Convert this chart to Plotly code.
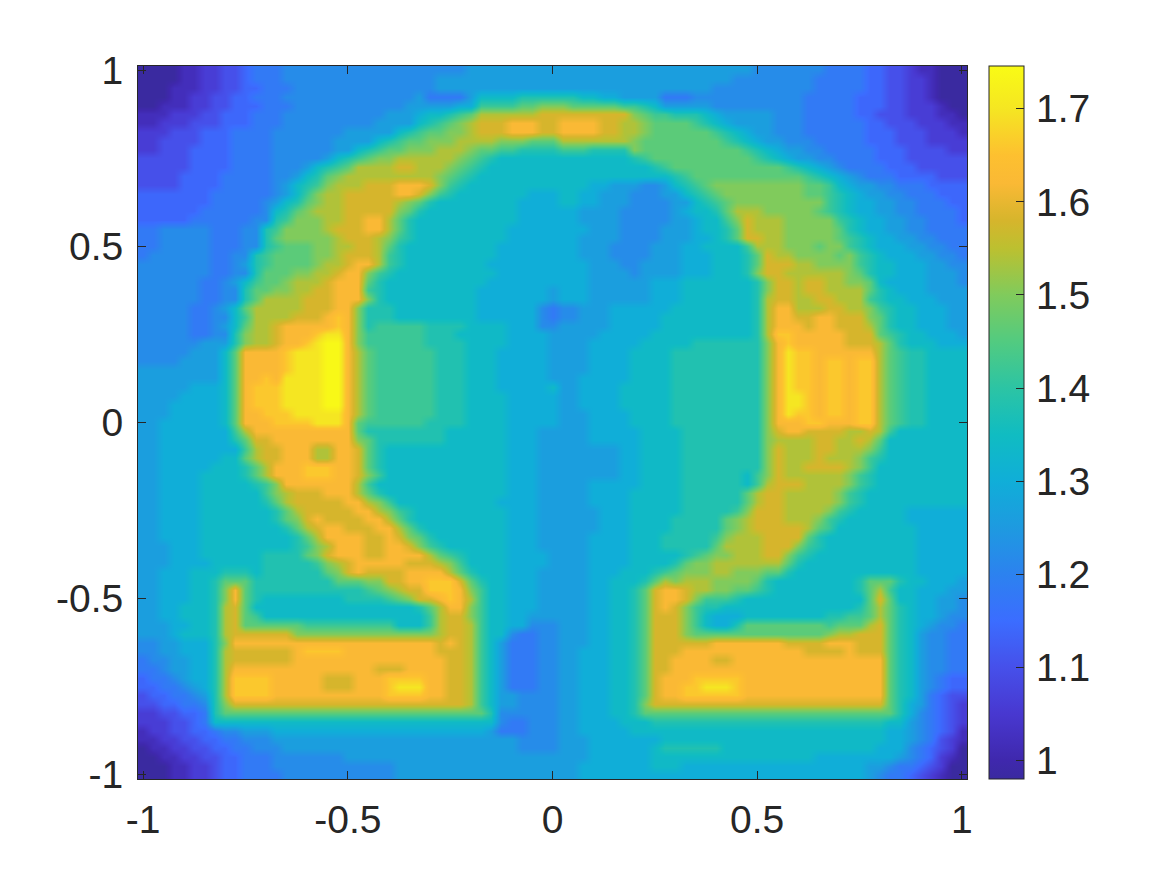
import re
import plotly.graph_objects as go

# Colour levels: one code per value of the field.
LEVEL_CODES = list("ABCDEFGHIJKLMNOPQRST")
LEVEL_VALUES = [0.98, 1.02, 1.06, 1.10, 1.14, 1.18, 1.22, 1.26, 1.30, 1.34,
                1.38, 1.42, 1.46, 1.50, 1.54, 1.58, 1.62, 1.66, 1.70, 1.74]

X_VALUES = [i / 40 - 1 for i in range(81)]
Y_VALUES = [1 - j / 40 for j in range(81)]
TICK_VALUES = [-1, -0.5, 0, 0.5, 1]
TICK_LABELS = ["-1", "-0.5", "0", "0.5", "1"]
BAR_TICKS = [1, 1.1, 1.2, 1.3, 1.4, 1.5, 1.6, 1.7]
BAR_LABELS = ["\u200a1", "\u200a1.1", "\u200a1.2", "\u200a1.3", "\u200a1.4", "\u200a1.5", "\u200a1.6", "\u200a1.7"]

# Cell runs per image row, top to bottom: code + number of cells. x from -1 to 0.
ROWS_LEFT = [
"A4B2C2D2E1F3G18H9","A4B2C2D2E1F3G15H12","A3B3C2D2E2F3G14H12","A3B2C2D2E2F3G13H1F4H1J4K4",
"A2B3C2D2E3F3G11H5I2L4M2N2","B3C3D2E3F3G10H3I1J2K1L1M1O6P2","B2C3D3E3F3G9H4J1K1L1M1N1O1P3Q3P2",
"C3D3E3F4G7H5J1K1L1M2N2O1P3Q3P2","C2D4E3F4G6H4J1K1L1M2N3O4N3M3","C2D3E4F4G6H2J1K1L1M2N3O3N1M2L2K4",
"D5E4F4G5H1J1K1L1M1N2O6N1M1L1K1J6","D5E4F4G3H1J1K1L1M1O4P2O3N1M1L1K1J7","D4E4F5G2H1J1K1M1N1O9N1M1L1K1J8",
"D4E4F5G1H1J1K1L1N1O3P3Q3P1N1L1K1J9","E7F6G1H1J1L1N1O2P5Q2P1N1L1K1J7I3","E7F5G1H1J1K1M1N1O2P5O1N1M1K1J8I4",
"E6F6G1J1K1M1N1O3P5N1M1K1J9I4","E5F6G2K1L1N3O2P2Q2O1M1K1J10I4","F2G5F3G2K1L1N4O1P3Q2O1M1K1J9I5",
"F2G5F3G2K1M1N5O1P3O1N1L1K1J9I5","F2G5F3G2K1L1M3N2O2P2O1M1K1J9I6","F1G6F2G2K1L1M4N2O1P3O1L1K1J9I6",
"G7F2G1H1K1L1M4N1O2P1Q2O1L1K1J8I7","G7F2G2K1M3N2O2P1Q2N1L1K1J10I6","G6F2G1H1J1L1M2N1O3P1Q3M1K1J10I7",
"G6F2G2K1M2N2O2P2Q3L1K1J9I7H1","G6F2G2K1M1O4P3Q3N1K1J9I7H1","G5F2G1H1J1M1O5P3Q2N1K3J8I6G1F1",
"G5F2G2J1L1O4P3Q1R1Q1N1K3J8I6G1F1","G5F2G1H1J1M1O2P1Q5R1Q1N1K1L5K4J4I3G2","G5F2G2K1N1O2P1Q3R1S2Q1N1L6K3J5I4H1",
"G6H3K1N1O2P1Q2R1S1T2Q1N1L6K4J4I4H1","G5H3J1M1Q4R1S3T2Q1O1M1L6K3J3I5H1","G4H4J1M1Q4R1S3T2Q1O1M1L6K3J3I5H1",
"H8J1M1Q4R1S3T2Q1O1M1L6K3J3I5H1","H8J1M1Q2R1Q1S4T2Q1O1M1L6K3J3I5H1","H5I3J1M1Q1R3S4T2Q1O1M1L6K3J3I5J1",
"H4I4J1M1Q1R3S4T2Q1O1M1L6K3J4I5","H3I5J1M1Q1R3S4T2Q1O1M1L6K3J4I5","H3I5J1M1Q2R3S5Q1O1M1L6K3J4I5",
"H2I6J1M1Q3R4S3Q1M1L6K4J4I5","H2I7L1O1Q10M1K8J6I3H2","H2I7K1M1P2Q8N1M1K7J6I3H2",
"H2I8L1O1P2Q3O2Q2P1M1K1J12I3H2","H2I6J2M1O1P2Q3O2Q2P1M1K1J12I3H2","H2I5J3K1M1O1Q3R3Q2P1M1K1J12I3H2",
"H2I4J4K1M1O1Q3R3Q2P1N1L1J12I3H2","H2I4J5K1L1N1Q7O1L1J13I3H2","H2I4J6L1N1O1P3Q3O1M1K1J12I3H2",
"H2I4J6K1M1O1P5Q2O1N1L1J10I4H2","H2I4J7K1M1O1P5Q2O1N1L1K1J9I3H2","H2I4J7K1M1N1P1Q1P4Q2O1M1K1J9I3H2",
"H2I4J8K1M1O1P1Q2P3Q2O1M1K1J8I3H2","H2I4J9K1M1O1Q4P2Q1P1N1M1K1J7I3H2","H3I3J9K1L1N1O1Q3P2Q2P1N1L1K1J6I3H2",
"H3I3J6K4M1N1P1Q3P2Q4O1M1L1K1J4I4H1","H3I4J5K5L1N1O1P1Q5P3O1N1L1J4I4H1","H2I3J3K3J1K6M1N1P1Q1P4Q4O1M1K1J3I3H2",
"H2I3J2K1M3K8M3N2P2Q2R3P1M1K1J2I3H2","H2I3J2K1N1Q1M1K11L1M1N1O1P2R3Q1N1L1J2I3H2","H2I3J2K1N1Q1M1K1J8K4L1M1N1P2Q1R1Q1O1L1J2I3H2",
"H2I2J3K1O1P1M1J16K1M1O1Q2N1L1J2I3H2","H2I2J3K1O1P1M1L1J16L1O1P2N1L1J2I2H3","H3I2J2K1O1P1M6L9J3L1O1P2O1L1J2I2G3",
"H3I1J3K1O1P6N14O1P2O1L1J2G1F2G2","G2H2I3K1N1Q20P1Q1P1O1L1J1H1F3G2","G2H2I3K1O1P6Q1R4Q9P1P2O1L1J1H1F3G2",
"F1G2H2I2K1O1P6Q1Q14P2O1L1J1H1F3G2","F2G1H2I2K1O1Q14P3Q4P2O1L1J1H1F3G2","E1F2G1H1I2K1O1R4Q5P3Q3R4Q2P2O1L1J1H1F3G2",
"E2F2G1H1I1K1O1R4Q5P3Q3R1S3Q2P2O1L1J1H1F3G2","D1E2F2G1H1K1O1R4Q11R4Q2P2O1L1J1H2G4","D2E2F2G1K1N1P23O1L1J1H2G4",
"C2D2E2F1K1M26K1G6","C3D2E1F1J28G1F2G3","B1C2D2E2F1G2H3I21H1F3G3","B2C2D2E2F2G3H24G4",
"A1B2C2D2E2F2G3H23G4","A2B2C2D2E2F3G7H21","A3B2C2D1E2F3G12H16","A3B2C2D1E2F4G11H16",
]

# Same rows, x from 0.025 to 1.
ROWS_RIGHT = [
"H19G7F4E2D2C1B2A3","H17G8F5E2D2C2B1A3","H15G10F5E2D2C2B1A3","K2J2I2H4F3G11F5E3D2C2B1A3",
"N1M5L2K1J1H5G9F5E3D2C3B1A2","P7N1M1L2K3J1I1H5G3F5E2D3C3B2A1","Q4P2O2N1M4L1K1J1I1H4G3F6E2D3C3B2",
"Q4P2O2N1M6L1K1J1I1H2G3F6E3D3C3B1","O7N1M8L1K1J1I1H2G3F5E3D3C4","L3K4N1M10L1K1J1I1H2G2F5E3D4C2",
"J7K1L1M10L1K1J1I1H2G2F4E3D6","J9K1L1M11L1K1J1I1H1G1F4E3D5","J11K1L1M11L1K1J1I1H1G1F3E4D3",
"J3I2H3G2H1J1K1L1M1N9M2L1J1I1H2G2F3E4","J2I2H3G3H2J1K1L1M1N8M2L1K1J1I1H2G2F3E3","J2I2H3G4H2J1K1L1M1N9L1K1J1I2H2G2F3E2",
"I2H4G5H1I1J2K1M1O3N5M1L1K1J1I2H2G2F4E1","I2H4G5H2I1J2L1N1P1O3N5L1K1J1I2H2G2F3E1","I3H3G4H3I1J2K1M1P1O3N5M1K1J1I2H2G2F4",
"I2H4G4H3I2J1K1M1P2O2N5M1L1K1J1I2H2G2F3","I2H3G4H3I2J3J1L1O3N3M1N2L1K1J1I3H2G2F2","I2H3G4H3I3J3K1M1P1O2N4M1N1L1K1J1I3H2G2F1",
"I3H3G2H4I3J3K1M1P3O2N4L1K1J2I3H2G2","I3H4G1H4I3J3K1N1P2O6N1M1K1J2I3H3G1","I3H6I3J7K1N1P2O1P2O2N2M1J1I4H3G1",
"I3H6I3J7K1N1P2O1P2O4M1K1J1I3H4","I3H6I3J7K1O1P2O2P2O3L1K1J2I3H3","G2H3I6J8K1O1Q2O3P2O2N1L1K1J2I3H2",
"G2H3I5J9K1O1Q2P2Q2P3N1M1K1J2I3H2","H5I5J9K1O1Q3P1Q2P3O1M1K1J2I3H2","H4I5J10K1O1R2Q5P3M1L1K1J2I3H1",
"H3I5J5K6K1N1Q1R1Q5P3O1M1K1J3I3","H3I4J4K8K1N1Q1S1R2Q6O1M1L1K2J4","H3I4J4K8K1N1Q1S1R2Q1R2Q1R2O1M1L1K2J4",
"H3I4J4K8K1N1Q1S1R2Q1R2Q1R2O1M1L1K2J4","H2I5J4K8K1N1Q1S1R2Q1R2Q1R2O1M1L1K2J4","H2I4J5K8K1N1Q1S1R2Q1R2Q1R2O1M1L1K2J4",
"H2I4J5K8K1N1Q1S2R1Q1R2Q1R2O1M1L1K2J4","H2I4J5K8K1N1Q1S2R1Q1R2Q1R2O1M1L1K2J4","H3I4J4K8K1N1Q1S1R2Q1R2Q1R2O1M1L1K2J4",
"H3I4J4K8K1N1Q3R2Q3R2O1M1L1K2J4","H3I5J4K7K1N1P1Q2P4O2P1O1L1J7","H3I5J4K7K1N1O1O3P2O2P1O1M1J8",
"H6I2J4K7K1N1P1O3P2O3N1L1J8","H6I2J4K7K1N1P1O3P1O3N1L1K1J8","H6I2J4K7K1N1P1O2P4O1N1L1J9",
"H6I2J4K6J1L1N1P1O6N1L1K1J9","H3I5J4K6J1L1O1P3O4N1L1K1J9","H3I4J5K5K1M1O1P2O5N1L1K1J10",
"H3I4J5K5K1M1O1P2O5N1L1K1J10","H4I3J5K4K1L1N1P3O4N1L1K1J5I6","H4I3J4K4K1M1N1O1P3O3N1L1K1J6I6",
"H4I3J4K4K1M1N1O1P5O1M1L1J8I5","H3I4J3K4K1L1N1O3P4M1K1J9I5","H3I4J3K4K1M1O4P3N1L1K1J9I5",
"H3I4J5K1L1M1N2O3P2N1L1K1J10I5","H3I4J4K1M1N2O7M1K1J11I5","H3I3J3K1L1M1N3O2N3M2K1J12I5",
"H3I2J3K1M1O1N1O3N4M1K1J8K1M3K1J2I3H1","H3I2J2K1M1P1Q2P1O2N2M2L1K1J8K1M1O1L1J2I3H2","H3I2J2K1M1P1Q2P1N1L3K1J12M1P1M1J2I2H2G1",
"H3I2J2K1M1P1Q1P1N1L1K2J13K1M1O1M1K1J1I2H2G1","H3I2J2K1M1P3N1L1J1I3J8K2L2M1O1M1K1J1I2H1G2","H3I2J2K1M1P3N1L1J1I2K1M8L1M3O1P1M1K1J1I1H1G2F1",
"H3I2J2K1M1P3N1M13N1O2P3M1K1J1H1G2F2","H3I2J2K1M1P6Q7P4Q3P3M1K1J1H1G2F2","H2I3J2K1M1P3Q12P4Q1P3M1K1J1H1G2F2",
"H2I3J2K1M1P2Q4P2Q15M1K1J1H1G2F2","H2I3J2K1M1P2Q21M1K1J1H1G2F2","H2I3J2K1M1P1Q3R5Q14M1K1J1H1G1F1E2",
"H2I3J2K1M1P1Q2R2S3R1Q14M1K1J1H1G1F1E2","H2I3J2K1M1P1Q2R6Q14M1K1J1H1F1E1D2","H2I3J2K1N1P23M1K1I1H1F1E1D1C1",
"H2I3J2K1M25K1I1G1F1E1D1C1","H2I4J3K23J2H1G1F1E1D1C1","H2I5J25I2H1G1F1E1D1B1",
"H3I7J22I2H1G1F1D1C1B1","H3I6J1K6J15I3G1F1E1D1C1A1","H3I6J16I8H1G1F1E1C1B1A1",
"H2I7J3I18H2G1F2E1D1C1A2","H2I28H1G1F2E1D1C1B1A2",
]

Z_MIN = 0.98
Z_MAX = 1.746
BAR_STOP_VALUES = [0.98, 1.00, 1.05, 1.10, 1.15, 1.20, 1.25, 1.30, 1.35, 1.40, 1.45,
                   1.50, 1.55, 1.58, 1.62, 1.65, 1.70, 1.746]
BAR_STOP_COLORS = ["#3a2aa0", "#3f28ad", "#4838d0", "#4650ea", "#3b6dff", "#2c82ef", "#1e9ae0",
                   "#10aed8", "#10bcc2", "#2cc4a4", "#52cb80", "#80cb5c", "#bcc030", "#d6b52c",
                   "#fab935", "#fdc030", "#f5e622", "#f9fb15"]
PARULA = [[(v - Z_MIN) / (Z_MAX - Z_MIN), c] for v, c in zip(BAR_STOP_VALUES, BAR_STOP_COLORS)]


def decode(runs, size):
    code_to_value = dict(zip(LEVEL_CODES, LEVEL_VALUES))
    cells = []
    for code, count in re.findall(r"([A-T])(\d+)", runs):
        cells += [code_to_value[code]] * int(count)
    cells += [cells[-1]] * (size - len(cells))
    return cells[:size]


z = [decode(l, 41) + decode(r, 40) for l, r in zip(ROWS_LEFT, ROWS_RIGHT)]

INK = "#262626"
FONT = dict(family="Liberation Sans, Arial, sans-serif", size=39, color=INK)
W, H = 1167, 875

fig = go.Figure(go.Heatmap(
    x=X_VALUES, y=Y_VALUES, z=z, zmin=Z_MIN, zmax=Z_MAX, colorscale=PARULA, zsmooth="best",
    colorbar=dict(
        x=989 / W, xanchor="left", xpad=0, thickness=35, thicknessmode="pixels",
        y=96 / H, yanchor="bottom", ypad=0, len=713 / H, lenmode="fraction",
        outlinecolor=INK, outlinewidth=1, ticks="inside", ticklen=8, tickwidth=1,
        tickcolor=INK, tickvals=BAR_TICKS, ticktext=BAR_LABELS, tickfont=FONT,
    ),
))
axis = dict(
    tickvals=TICK_VALUES, ticktext=TICK_LABELS, ticks="inside", ticklen=8, tickwidth=1,
    tickcolor=INK, showline=True, linecolor=INK, linewidth=1, mirror="ticks",
    showgrid=False, zeroline=False, tickfont=FONT, range=[-1.0125, 1.0125],
    ticklabelstandoff=6,
)
fig.update_layout(
    width=W, height=H, paper_bgcolor="white", plot_bgcolor="white",
    margin=dict(l=0, r=0, t=0, b=0, autoexpand=False),
    xaxis=dict(axis, domain=[138 / W, 967 / W]),
    yaxis=dict(axis, domain=[1 - 779 / H, 1 - 66 / H]),
)
fig.write_html("out.html", post_script="document.body.style.margin='0';",
               config={"displayModeBar": False})
